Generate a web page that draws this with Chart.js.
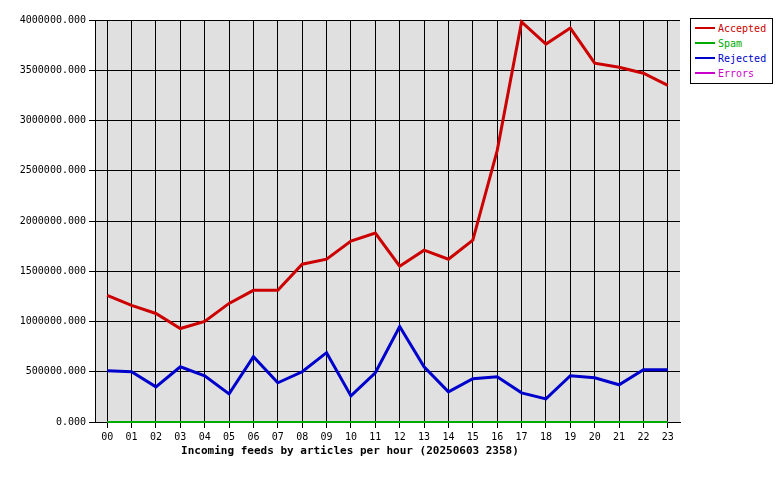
<!DOCTYPE html>
<html><head><meta charset="utf-8">
<script src="https://cdn.jsdelivr.net/npm/chart.js@4"></script>
<style>
body{margin:0;background:#fff;font-family:"DejaVu Sans Mono",monospace}
#wrap{position:relative;width:780px;height:480px}
#legend{position:absolute;left:690px;top:18px;width:81px;border:1px solid #000;font-size:10px;padding:2px 0;background:#fff}
#legend div{height:15px;line-height:15px;white-space:nowrap}
#legend span.l{display:inline-block;width:20px;height:2px;margin:0 3px 3px 4px;vertical-align:middle}
#title{position:absolute;left:0;width:700px;top:444px;text-align:center;font-weight:bold;font-size:11px}
</style></head>
<body><div id="wrap"><canvas id="c" width="690" height="448"></canvas><div id="legend"></div>
<div id="title">Incoming feeds by articles per hour (20250603 2358)</div></div>
<script>
const hours = ["00","01","02","03","04","05","06","07","08","09","10","11","12","13","14","15","16","17","18","19","20","21","22","23"];
const accepted = [1260000,1160000,1080000,930000,1000000,1180000,1310000,1310000,1570000,1620000,1800000,1880000,1550000,1710000,1620000,1810000,2700000,3980000,3760000,3920000,3570000,3530000,3470000,3350000];
const spam = new Array(24).fill(0);
const rejected = [510000,500000,350000,550000,460000,280000,650000,390000,500000,690000,260000,490000,950000,550000,300000,430000,450000,290000,230000,460000,440000,370000,520000,520000];
const errors = new Array(24).fill(0);
const names = ["Accepted","Spam","Rejected","Errors"];
const colors = ["#cc0000","#00aa00","#0000cc","#cc00cc"];
const series = [accepted, spam, rejected, errors];

const leg = document.getElementById('legend');
names.forEach((n, i) => {
    leg.innerHTML += `<div style="color:${colors[i]}"><span class="l" style="background:${colors[i]}"></span>${n}</div>`;
});

const bgPlugin = {
    id: 'bg',
    beforeDraw(chart) {
        const a = chart.chartArea, c = chart.ctx;
        c.save(); c.fillStyle = '#e0e0e0';
        c.fillRect(a.left, a.top, a.right - a.left, a.bottom - a.top);
        c.restore();
    }
};

new Chart(document.getElementById('c'), {
    type: 'line',
    data: {
        labels: hours,
        datasets: [1, 2, 0, 3].map(i => ({
            label: names[i], data: series[i], borderColor: colors[i], clip: false,
            borderWidth: i == 0 || i == 2 ? 3 : 2, pointRadius: 0, tension: 0
        }))
    },
    options: {
        responsive: false, animation: false,
        layout: { padding: { top: 20, right: 10, left: 0, bottom: 0 } },
        plugins: { legend: { display: false }, tooltip: { enabled: false } },
        scales: {
            x: {
                offset: true,
                afterFit: s => { s.height = 26; },
                grid: { offset: false, color: '#000', tickLength: 6 },
                border: { color: '#000' },
                ticks: { color: '#000', font: { family: 'DejaVu Sans Mono', size: 10 }, maxRotation: 0, autoSkip: false }
            },
            y: {
                min: 0, max: 4000000,
                afterFit: s => { s.width = 95; },
                grid: { color: '#000', tickLength: 6 },
                border: { color: '#000' },
                ticks: { stepSize: 500000, color: '#000', font: { family: 'DejaVu Sans Mono', size: 10 },
                    callback: v => v.toFixed(3) }
            }
        }
    },
    plugins: [bgPlugin]
});
</script></body></html>
